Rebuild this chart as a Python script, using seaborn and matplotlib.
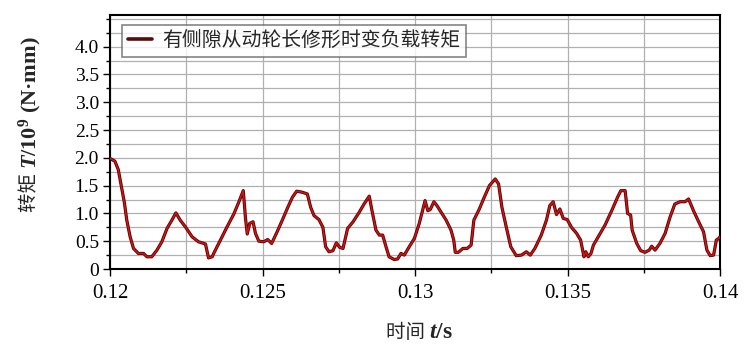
import numpy as np
import pandas as pd
import matplotlib
matplotlib.use("Agg")
import matplotlib.pyplot as plt
from matplotlib.ticker import MultipleLocator
import seaborn as sns

# ---- data ----
time_s = [
    0.12000, 0.12016, 0.12027, 0.12038, 0.12047, 0.12055, 0.12066, 0.12077, 0.12093, 0.12110,
    0.12121, 0.12137, 0.12154, 0.12170, 0.12187, 0.12203, 0.12216, 0.12230, 0.12247, 0.12269,
    0.12290, 0.12313, 0.12323, 0.12335, 0.12340, 0.12362, 0.12384, 0.12406, 0.12422, 0.12437,
    0.12444, 0.12450, 0.12458, 0.12469, 0.12477, 0.12488, 0.12504, 0.12517, 0.12530, 0.12548,
    0.12565, 0.12583, 0.12598, 0.12612, 0.12631, 0.12647, 0.12658, 0.12669, 0.12685, 0.12698,
    0.12707, 0.12718, 0.12731, 0.12742, 0.12753, 0.12764, 0.12779, 0.12797, 0.12817, 0.12833,
    0.12850, 0.12859, 0.12872, 0.12883, 0.12894, 0.12905, 0.12915, 0.12932, 0.12943, 0.12954,
    0.12965, 0.12981, 0.12998, 0.13014, 0.13033, 0.13042, 0.13050, 0.13062, 0.13072, 0.13086,
    0.13102, 0.13118, 0.13127, 0.13132, 0.13142, 0.13157, 0.13171, 0.13184, 0.13193, 0.13211,
    0.13227, 0.13244, 0.13263, 0.13274, 0.13285, 0.13299, 0.13314, 0.13332, 0.13349, 0.13365,
    0.13378, 0.13393, 0.13414, 0.13431, 0.13442, 0.13453, 0.13464, 0.13475, 0.13486, 0.13499,
    0.13513, 0.13530, 0.13543, 0.13554, 0.13560, 0.13568, 0.13577, 0.13585, 0.13601, 0.13623,
    0.13645, 0.13664, 0.13675, 0.13689, 0.13697, 0.13707, 0.13712, 0.13727, 0.13740, 0.13754,
    0.13768, 0.13776, 0.13787, 0.13803, 0.13820, 0.13836, 0.13852, 0.13869, 0.13885, 0.13897,
    0.13913, 0.13930, 0.13946, 0.13957, 0.13968, 0.13979, 0.13988, 0.13996, 0.14000,
]
torque = [
    1.99, 1.94, 1.79, 1.47, 1.20, 0.88, 0.58, 0.37, 0.28, 0.28,
    0.22, 0.22, 0.34, 0.49, 0.73, 0.88, 1.01, 0.88, 0.76, 0.58,
    0.49, 0.45, 0.20, 0.22, 0.28, 0.52, 0.76, 0.99, 1.20, 1.41,
    0.93, 0.63, 0.82, 0.85, 0.64, 0.50, 0.49, 0.53, 0.46, 0.67,
    0.88, 1.11, 1.29, 1.40, 1.38, 1.35, 1.11, 0.96, 0.89, 0.75,
    0.40, 0.31, 0.33, 0.47, 0.39, 0.37, 0.73, 0.85, 1.02, 1.17,
    1.31, 1.05, 0.70, 0.61, 0.61, 0.40, 0.22, 0.17, 0.18, 0.28,
    0.25, 0.40, 0.55, 0.82, 1.23, 1.05, 1.07, 1.21, 1.14, 1.02,
    0.88, 0.70, 0.52, 0.30, 0.30, 0.37, 0.37, 0.43, 0.88, 1.08,
    1.29, 1.50, 1.62, 1.53, 1.11, 0.76, 0.40, 0.24, 0.25, 0.31,
    0.25, 0.37, 0.61, 0.88, 1.14, 1.21, 0.98, 1.08, 0.91, 0.89,
    0.75, 0.64, 0.52, 0.22, 0.31, 0.22, 0.28, 0.43, 0.58, 0.79,
    1.05, 1.29, 1.41, 1.41, 1.00, 0.97, 0.70, 0.46, 0.33, 0.30,
    0.34, 0.41, 0.34, 0.46, 0.64, 0.93, 1.17, 1.21, 1.21, 1.26,
    1.05, 0.85, 0.67, 0.34, 0.24, 0.25, 0.52, 0.55, 0.58,
]
series_label = "有侧隙从动轮长修形时变负载转矩"
x_ticks = [0.12, 0.125, 0.13, 0.135, 0.14]
x_tick_labels = ["0.12", "0.125", "0.13", "0.135", "0.14"]
y_ticks = [0, 0.5, 1.0, 1.5, 2.0, 2.5, 3.0, 3.5, 4.0]
y_tick_labels = ["0", "0.5", "1.0", "1.5", "2.0", "2.5", "3.0", "3.5", "4.0"]
x_label_cn, x_label_rest = "时间 ", "$\\mathit{t}$/s"
y_label_cn, y_label_rest = "转矩 ", "$\\mathit{T}$/10$^{9}$ (N·mm)"

df = pd.DataFrame({"t": time_s, "T": torque})

sns.set_theme(style="white")
plt.rcParams["font.family"] = ["Liberation Serif", "Noto Sans CJK SC", "DejaVu Sans"]
plt.rcParams["mathtext.fontset"] = "custom"
plt.rcParams["mathtext.it"] = "Liberation Serif:italic:bold"
plt.rcParams["mathtext.rm"] = "Liberation Serif:bold"
plt.rcParams["mathtext.default"] = "rm"

fig = plt.figure(figsize=(7.55, 3.63), dpi=100)
ax = fig.add_axes([110 / 755, 1 - 269 / 363, 610 / 755, 254 / 363])

sns.lineplot(data=df, x="t", y="T", ax=ax, color="#4a0808", lw=2.3,
             label=series_label, zorder=3)
sns.lineplot(data=df, x="t", y="T", ax=ax, color="#d81010", lw=1.1,
             zorder=4, legend=False)

ax.set_xlim(0.12, 0.14)
ax.set_ylim(0, 4.57)

ax.set_xticks(x_ticks)
ax.set_xticklabels(x_tick_labels)
ax.xaxis.set_minor_locator(MultipleLocator(0.0025))
ax.set_yticks(y_ticks)
ax.set_yticklabels(y_tick_labels)
ax.yaxis.set_minor_locator(MultipleLocator(0.25))

ax.grid(which="both", color="#b0b0b0", lw=0.9, zorder=0)
ax.set_axisbelow(True)

ax.tick_params(axis="both", which="both", direction="out", colors="black",
               left=True, bottom=True)
ax.tick_params(axis="both", which="major", length=5, width=1)
ax.tick_params(axis="both", which="minor", length=3, width=1)
ax.tick_params(axis="x", labelsize=15, pad=6)
ax.tick_params(axis="y", labelsize=14, pad=3)

for s in ax.spines.values():
    s.set_color("black")
    s.set_linewidth(1.5)

ax.set_xlabel("")
ax.set_ylabel("")

# x label: Chinese part + latin part, joined at one point
jx, jy = 429 / 755, 1 - 333 / 363
fig.text(jx, jy, x_label_cn, ha="right", va="center", fontsize=14,
         family=["Noto Sans CJK SC"])
fig.text(jx, jy, x_label_rest, ha="left", va="center", fontsize=17,
         fontweight="bold")

# y label: rotated, Chinese part below the latin part
kx, ky = 30 / 755, 1 - 169 / 363
fig.text(kx, ky, y_label_cn, ha="right", va="center", rotation=90,
         rotation_mode="anchor", fontsize=14, family=["Noto Sans CJK SC"])
fig.text(kx, ky, y_label_rest, ha="left", va="center", rotation=90,
         rotation_mode="anchor", fontsize=16, fontweight="bold")

leg = ax.legend(loc="upper left", bbox_to_anchor=(0.02, 0.962), frameon=True,
                fancybox=False, edgecolor="#666666", borderaxespad=0,
                handlelength=1.2, handletextpad=0.55, borderpad=0.28,
                prop={"family": ["Noto Sans CJK SC"], "size": 14.3})
leg.get_frame().set_linewidth(1.2)
for h in leg.get_lines():
    h.set_linewidth(2.6)
    h.set_color("#5a0a0a")

fig.savefig("out.png", dpi=100)
